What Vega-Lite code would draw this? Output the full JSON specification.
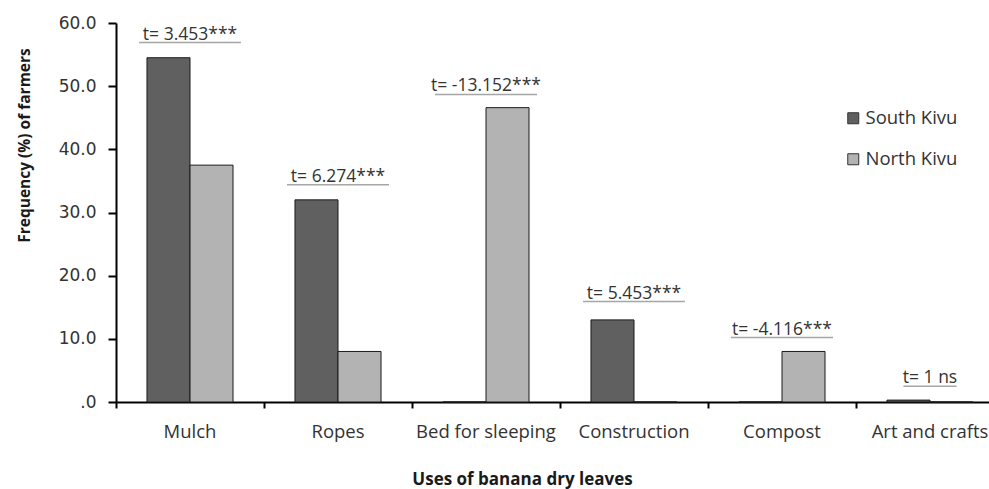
{
  "$schema": "https://vega.github.io/schema/vega-lite/v6.json",
  "autosize": "none",
  "width": 888,
  "height": 379,
  "padding": {"left": 116, "top": 23, "right": 0, "bottom": 87},
  "background": "white",
  "config": {
    "view": {"stroke": null},
    "font": "Open Sans",
    "axis": {"grid": false}
  },
  "datasets": {
    "bars": [
      {"use": "Mulch", "region": "South Kivu", "value": 54.5},
      {"use": "Mulch", "region": "North Kivu", "value": 37.5},
      {"use": "Ropes", "region": "South Kivu", "value": 32.0},
      {"use": "Ropes", "region": "North Kivu", "value": 8.0},
      {"use": "Bed for sleeping", "region": "South Kivu", "value": 0},
      {"use": "Bed for sleeping", "region": "North Kivu", "value": 46.6},
      {"use": "Construction", "region": "South Kivu", "value": 13.0},
      {"use": "Construction", "region": "North Kivu", "value": 0},
      {"use": "Compost", "region": "South Kivu", "value": 0},
      {"use": "Compost", "region": "North Kivu", "value": 8.0},
      {"use": "Art and crafts", "region": "South Kivu", "value": 0.3},
      {"use": "Art and crafts", "region": "North Kivu", "value": 0}
    ],
    "annot": [
      {"use": "Mulch", "t": "t= 3.453***", "ty": 56.9},
      {"use": "Ropes", "t": "t= 6.274***", "ty": 34.4},
      {"use": "Bed for sleeping", "t": "t= -13.152***", "ty": 48.7},
      {"use": "Construction", "t": "t= 5.453***", "ty": 15.9},
      {"use": "Compost", "t": "t= -4.116***", "ty": 10.2},
      {"use": "Art and crafts", "t": "t= 1 ns", "ty": 2.5}
    ]
  },
  "layer": [
    {
      "data": {"name": "bars"},
      "mark": {"type": "bar", "stroke": "#1a1a1a", "strokeWidth": 1},
      "encoding": {
        "x": {
          "field": "use", "type": "nominal",
          "scale": {
            "domain": ["Mulch", "Ropes", "Bed for sleeping", "Construction", "Compost", "Art and crafts"],
            "paddingInner": 0, "paddingOuter": 0
          },
          "axis": {
            "title": "Uses of banana dry leaves",
            "titleFont": "Open Sans", "titleFontSize": 17, "titleFontWeight": "bold", "titleColor": "#1a1a1a",
            "titleX": 406, "titleY": 77, "titleAlign": "center", "titleBaseline": "middle",
            "labelAngle": 0, "labelFontSize": 18.5, "labelColor": "#333333", "labelPadding": 14,
            "bandPosition": 0,
            "domainColor": "#000000", "domainWidth": 2,
            "tickColor": "#000000", "tickWidth": 2, "tickSize": 6
          }
        },
        "xOffset": {
          "field": "region", "type": "nominal",
          "scale": {"domain": ["South Kivu", "North Kivu"], "paddingInner": 0, "paddingOuter": 0.72}
        },
        "y": {
          "field": "value", "type": "quantitative",
          "scale": {"domain": [0, 60], "nice": false},
          "axis": {
            "values": [0, 10, 20, 30, 40, 50, 60],
            "labelExpr": "datum.value == 0 ? '.0' : format(datum.value, '.1f')",
            "labelFont": "DejaVu Sans", "labelFontSize": 17, "labelColor": "#333333", "labelPadding": 12,
            "domainColor": "#000000", "domainWidth": 2,
            "tickColor": "#000000", "tickWidth": 2, "tickSize": 8,
            "title": "Frequency (%) of farmers",
            "titleFont": "Open Sans", "titleFontSize": 15.5, "titleFontWeight": "bold", "titleColor": "#1a1a1a",
            "titleAngle": -90, "titleX": -92, "titleY": 122, "titleAlign": "center", "titleBaseline": "middle"
          }
        },
        "color": {
          "field": "region", "type": "nominal",
          "scale": {"domain": ["South Kivu", "North Kivu"], "range": ["#606060", "#b3b3b3"]},
          "legend": {
            "title": null, "orient": "none", "legendX": 728, "legendY": 86,
            "symbolType": "square", "symbolSize": 121, "symbolStrokeColor": "#333333", "symbolStrokeWidth": 1,
            "labelFontSize": 18.5, "labelColor": "#333333", "labelOffset": 3, "rowPadding": 22
          }
        }
      }
    },
    {
      "data": {"name": "annot"},
      "transform": [{"filter": "datum.t != 't= 1 ns'"}],
      "mark": {"type": "tick", "thickness": 1.5, "color": "#808080", "size": 102},
      "encoding": {
        "x": {"field": "use", "type": "nominal"},
        "y": {"field": "ty", "type": "quantitative"}
      }
    },
    {
      "data": {"name": "annot"},
      "transform": [{"filter": "datum.t == 't= 1 ns'"}],
      "mark": {"type": "tick", "thickness": 1.5, "color": "#808080", "size": 53},
      "encoding": {
        "x": {"field": "use", "type": "nominal"},
        "y": {"field": "ty", "type": "quantitative"}
      }
    },
    {
      "data": {"name": "annot"},
      "mark": {"type": "text", "baseline": "alphabetic", "dy": -3, "fontSize": 17.5, "color": "#333333"},
      "encoding": {
        "x": {"field": "use", "type": "nominal"},
        "y": {"field": "ty", "type": "quantitative"},
        "text": {"field": "t"}
      }
    }
  ]
}
